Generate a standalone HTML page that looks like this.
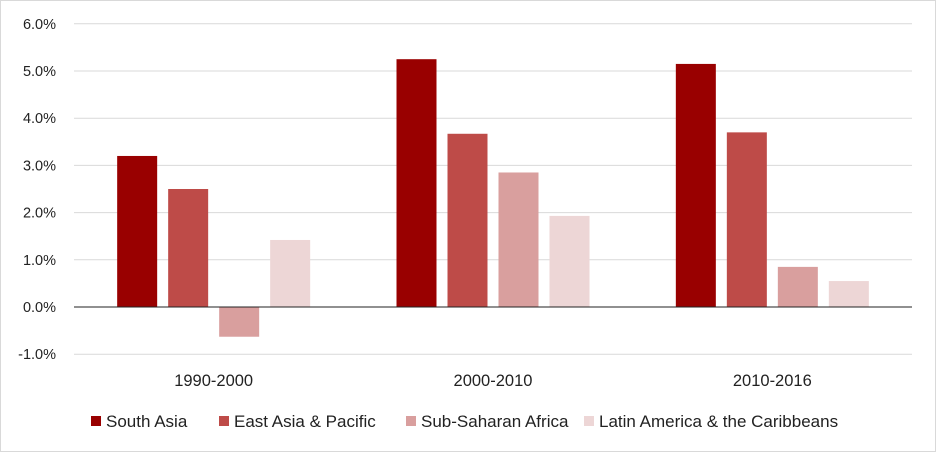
<!DOCTYPE html>
<html><head><style>
body{margin:0;background:#fff}
svg{display:block;font-family:"Liberation Sans",Calibri,sans-serif}
</style></head><body>
<svg id="c" width="936" height="452">
<rect x="0.5" y="0.5" width="935" height="451" fill="#fff" stroke="#d9d9d9"/>
<g id="grid"></g><g id="bars"></g><g id="axis"></g><g id="legend"></g>
</svg>
<script>
const categories=["1990-2000","2000-2010","2010-2016"];
const seriesNames=["South Asia","East Asia & Pacific","Sub-Saharan Africa","Latin America & the Caribbeans"];
const southAsia=[3.2,5.25,5.15];
const eastAsia=[2.5,3.67,3.7];
const subSaharan=[-0.63,2.85,0.85];
const latinAmerica=[1.42,1.93,0.55];
const ticks=[-1,0,1,2,3,4,5,6];
const tickLabels=["-1.0%","0.0%","1.0%","2.0%","3.0%","4.0%","5.0%","6.0%"];
const colors=["#990000","#BE4B48","#D99F9E","#EDD6D6"];
const NS="http://www.w3.org/2000/svg";
const x0=74,x1=912,y0v=307,pxPer=47.2;
const y=v=>y0v-v*pxPer;
const gw=(x1-x0)/categories.length;
function mk(tag,attrs,parent,text){const e=document.createElementNS(NS,tag);for(const k in attrs)e.setAttribute(k,attrs[k]);if(text!==undefined)e.textContent=text;document.getElementById(parent).appendChild(e);return e;}
ticks.forEach((t,i)=>{
  if(t!==0){const l=mk("line",{x1:x0,x2:x1,y1:y(t),y2:y(t),stroke:"#d9d9d9"},"grid");
  
  }
  const tx=mk("text",{x:56,y:y(t)+5,"text-anchor":"end","font-size":14.5,fill:"#222"},"axis",tickLabels[i]);
  
  
});
const series=[southAsia,eastAsia,subSaharan,latinAmerica];
const bw=40,step=51;
categories.forEach((c,ci)=>{
  const cx=x0+gw*(ci+0.5);
  series.forEach((s,si)=>{
    const v=s[ci];const bx=cx-2*step+si*step+5.5;
    const r=mk("rect",{x:bx,y:Math.min(y(v),y(0)),width:bw,height:Math.abs(y(v)-y(0)),fill:colors[si]},"bars");
    
    
  });
  const t=mk("text",{x:cx,y:386,"text-anchor":"middle","font-size":16.5,fill:"#222"},"axis",c);
  
  
});
const z=mk("line",{x1:x0,x2:x1,y1:y(0),y2:y(0),stroke:"#222","stroke-width":1},"axis");


const lx=[91,219,406,584];
seriesNames.forEach((n,i)=>{
  const m=mk("rect",{x:lx[i],y:416,width:10,height:10,fill:colors[i]},"legend");
  
  
  const t=mk("text",{x:lx[i]+15,y:427,"font-size":17,fill:"#222"},"legend",n);
  
  
});
</script>
</body></html>
